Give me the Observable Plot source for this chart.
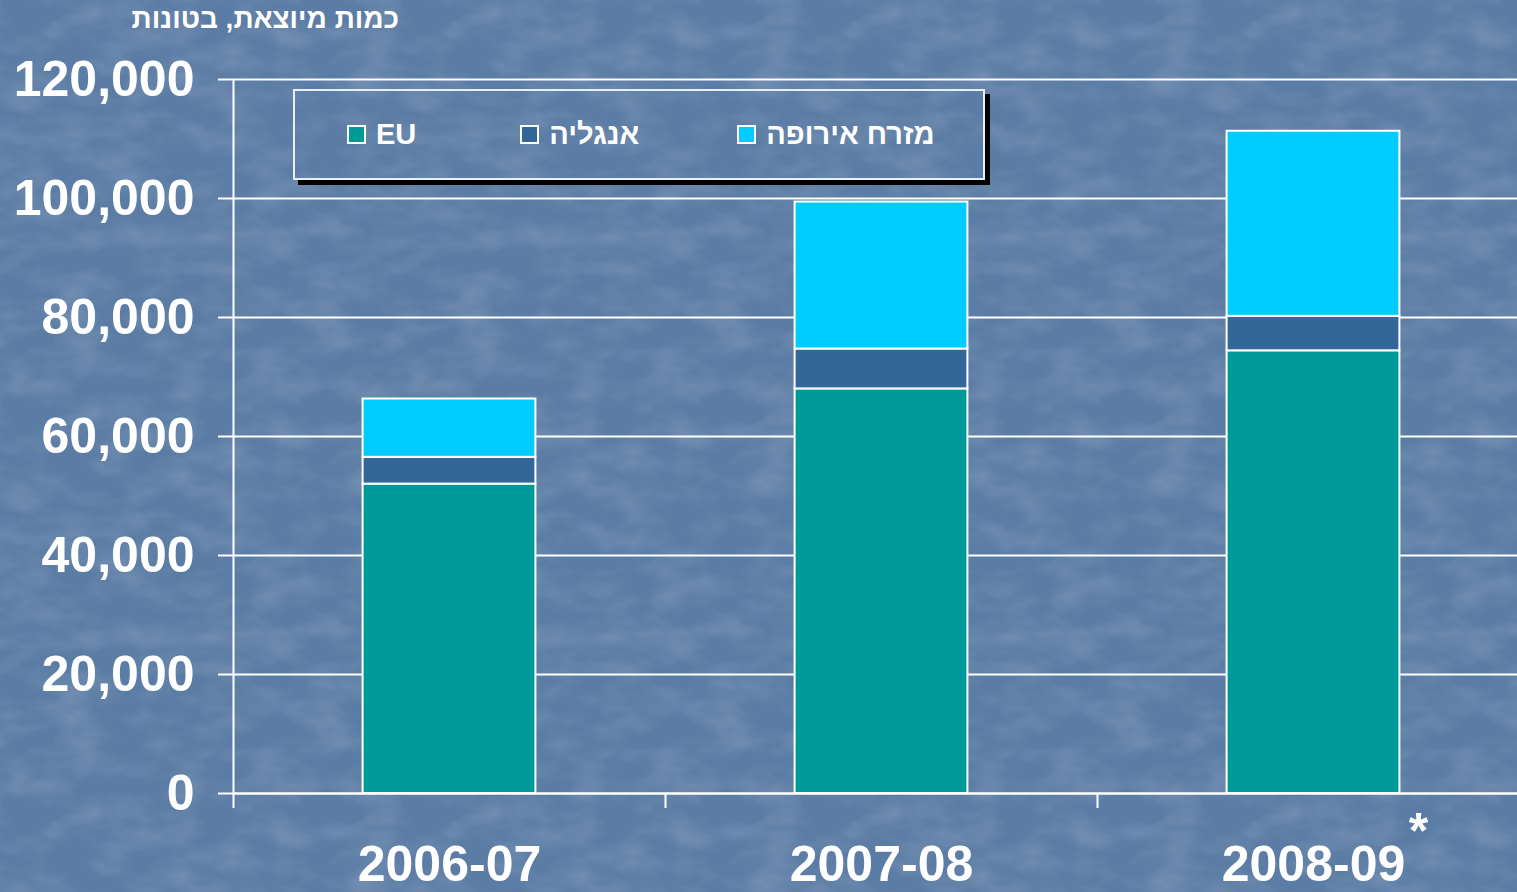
<!DOCTYPE html>
<html>
<head>
<meta charset="utf-8">
<script src="https://cdn.jsdelivr.net/npm/d3@7"></script>
<script src="https://cdn.jsdelivr.net/npm/@observablehq/plot@0.6"></script>
<style>
  html, body { margin: 0; padding: 0; }
  body {
    width: 1517px; height: 892px; overflow: hidden; position: relative;
    background-color: #5b7ca4;
    font-family: "Liberation Sans", Arial, sans-serif;
  }
  #texture {
    position: absolute; left: 0; top: 0; width: 1517px; height: 892px;
    background-image: url("data:image/svg+xml;utf8,<svg xmlns='http://www.w3.org/2000/svg' width='400' height='400'><filter id='n' x='0' y='0' width='100%' height='100%'><feTurbulence type='fractalNoise' baseFrequency='0.02 0.04' numOctaves='3' seed='4' stitchTiles='stitch'/><feColorMatrix values='0 0 0 0 1  0 0 0 0 1  0 0 0 0 1  0 0 0 1 -0.4'/></filter><rect width='400' height='400' filter='url(%23n)' opacity='0.3'/></svg>");
    background-size: 400px 400px;
    pointer-events: none;
  }
  #chart { position: absolute; left: 0; top: 0; }
  #title {
    position: absolute; left: 0; top: 3px; width: 399px; text-align: right;
    direction: rtl; color: white; font-weight: bold; font-size: 28px;
  }
  #legend {
    position: absolute; left: 293px; top: 89px; width: 692px; height: 91px;
    border: 2px solid #e8eef5; box-shadow: 5px 5px 0 #000;
    display: flex; align-items: center; padding-left: 52px; box-sizing: border-box;
  }
  .item { display: flex; align-items: center; margin-right: 104px; color: white; font-weight: bold; font-size: 29px; white-space: nowrap; }
  .item:nth-child(2) { margin-right: 98px; }
  .sw { width: 15px; height: 15px; border: 2px solid white; margin-right: 10px; }
</style>
</head>
<body>
<div id="texture"></div>
<div id="chart"></div>
<div id="title"></div>
<div id="legend"></div>
<script>
// ---- data ----
const years = ["2006-07", "2007-08", "2008-09"];
const yearNotes = ["", "", "*"];
const euValues = [52000, 68000, 74400];
const englandValues = [4500, 6700, 5800];
const eastEuropeValues = [9800, 24700, 31100];
const seriesNames = ["EU", "אנגליה", "מזרח אירופה"];
const seriesColors = ["#009999", "#336699", "#00ccff"];
const yTicks = [0, 20000, 40000, 60000, 80000, 100000, 120000];
const titleText = "כמות מיוצאת, בטונות";

// ---- build table ----
const seriesValues = [euValues, englandValues, eastEuropeValues];
const rows = [];
years.forEach((yr, i) => {
  let base = 0;
  seriesNames.forEach((s, k) => {
    const v = seriesValues[k][i];
    rows.push({year: yr, i, series: s, y1: base, y2: base + v});
    base += v;
  });
});
const labels = years.map((yr, i) => ({label: yr, note: yearNotes[i], pos: i + 0.5, base: 0}));

const chart = Plot.plot({
  width: 1517,
  height: 892,
  marginLeft: 233,
  marginRight: -12,
  marginTop: 79,
  marginBottom: 99,
  style: {background: "transparent", color: "white", fontFamily: "'Liberation Sans', Arial, sans-serif", fontWeight: "bold", overflow: "visible"},
  x: {domain: [0, years.length], axis: null, label: null},
  y: {domain: [0, 120000], axis: null, label: null},
  color: {domain: seriesNames, range: seriesColors},
  marks: [
    Plot.gridY(yTicks, {stroke: "white", strokeOpacity: 1, strokeWidth: 2}),
    Plot.axisY({ticks: yTicks, tickSize: 15, tickPadding: 24, tickFormat: d3.format(","), fontSize: 50, fontWeight: "bold", stroke: "white", fill: "white", strokeWidth: 2, strokeOpacity: 1, label: null}),
    Plot.ruleX([0], {y1: 0, y2: 120000, stroke: "white", strokeWidth: 2}),
    Plot.ruleY([0], {stroke: "white", strokeWidth: 2}),
    Plot.axisX({ticks: d3.range(years.length + 1), tickSize: 15, tickFormat: () => "", stroke: "white", strokeWidth: 2, strokeOpacity: 1, label: null}),
    Plot.rect(rows, {x1: d => d.i + 0.3, x2: d => d.i + 0.7, y1: "y1", y2: "y2", fill: "series", stroke: "white", strokeWidth: 2}),
    Plot.text(labels, {x: "pos", y: "base", text: "label", dy: 71, fontSize: 50, fontWeight: "bold", fill: "white", textAnchor: "middle"}),
    Plot.text(labels, {x: "pos", y: "base", text: "note", dx: 105, dy: 38, fontSize: 50, fontWeight: "bold", fill: "white", textAnchor: "middle"})
  ]
});
document.getElementById("chart").appendChild(chart);

document.getElementById("title").textContent = titleText;
const legend = document.getElementById("legend");
seriesNames.forEach((s, k) => {
  const it = document.createElement("div");
  it.className = "item";
  const sw = document.createElement("div");
  sw.className = "sw";
  sw.style.background = seriesColors[k];
  const t = document.createElement("span");
  t.textContent = s;
  it.appendChild(sw);
  it.appendChild(t);
  legend.appendChild(it);
});
</script>
</body>
</html>
